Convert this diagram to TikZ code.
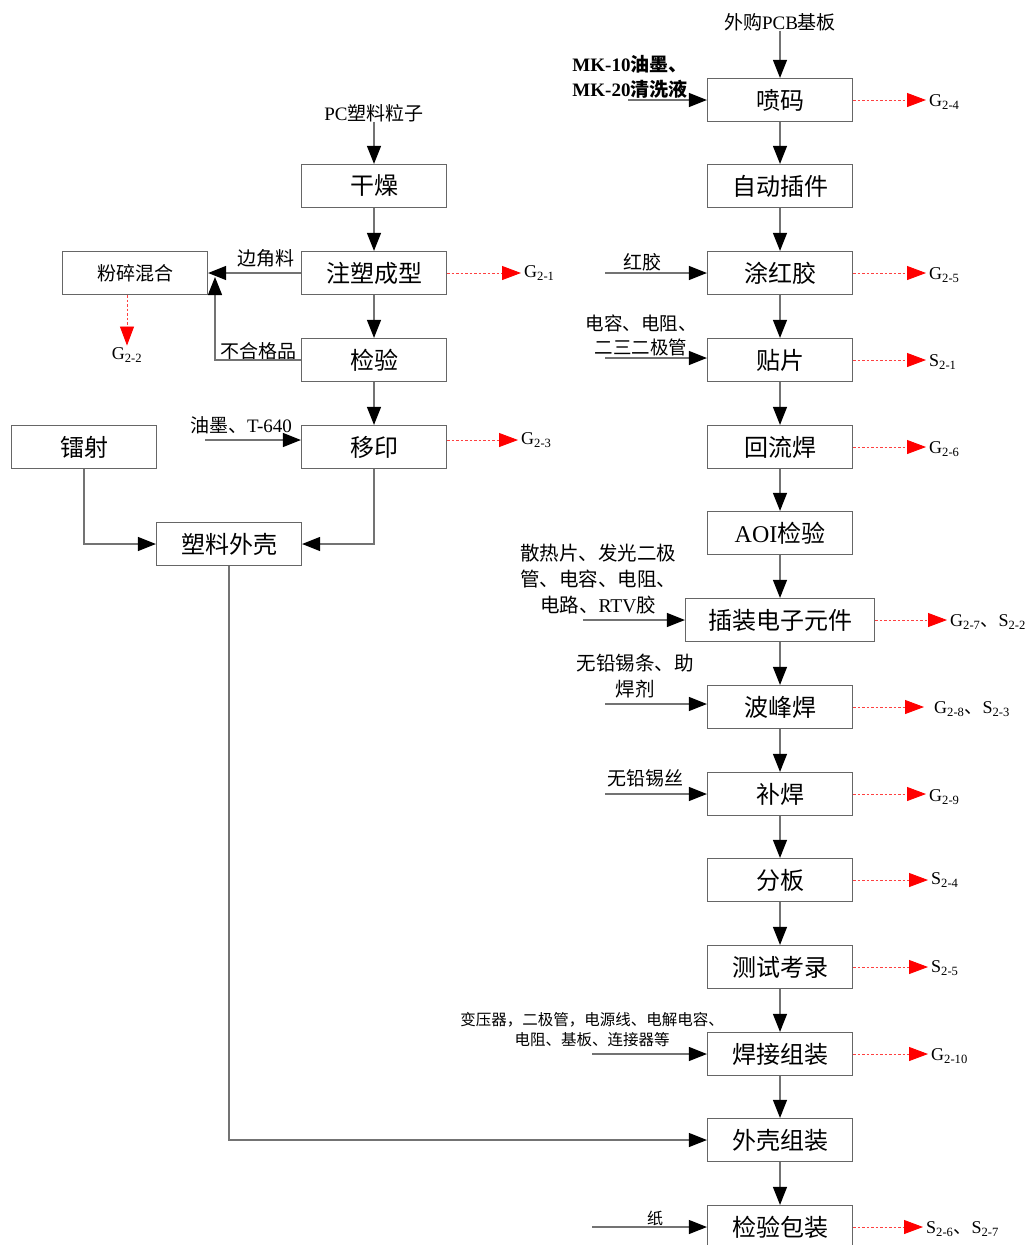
\documentclass[tikz,border=0pt]{standalone}
\usepackage{fontspec}
\setmainfont{Liberation Serif}
\newfontfamily\cjk{Noto Sans CJK SC}
\usetikzlibrary{arrows.meta}
\newcommand\zh[1]{{\cjk #1}}
\newcommand\sbs[1]{\textsubscript{#1}}
\begin{document}
\begin{tikzpicture}[x=1pt,y=-1pt,
  box/.style={draw=black!60, line width=1.2pt, fill=white, minimum width=145pt, minimum height=43pt, inner sep=0pt, font=\fontsize{24}{26}\selectfont\cjk},
  lbl/.style={inner sep=0pt, font=\fontsize{19}{25}\selectfont, align=center},
  glbl/.style={inner sep=0pt, anchor=west, font=\fontsize{18}{20}\selectfont},
  flow/.style={draw=black!55, line width=1.1pt, -{Triangle[length=18pt,width=14pt,color=black,fill=black]}},
  plain/.style={draw=black!55, line width=1.1pt},
  emit/.style={draw=red!75, line width=0.9pt, dash pattern=on 2.5pt off 2pt, shorten >=3pt, -{Triangle[length=19pt,width=14pt,color=red,fill=red]}}
]
\useasboundingbox (0,0) rectangle (1028,1245);
\fill[white] (0,0) rectangle (1028,1245);

% ---------------- left column ----------------
\node[lbl] (pc) at (374,113) {PC\zh{塑料粒子}};
\node[box] (gz) at (374,186) {干燥};
\node[box] (zs) at (374,273) {注塑成型};
\node[box] (jy) at (374,360) {检验};
\node[box] (yy) at (374,447) {移印};
\node[box, font=\fontsize{19}{21}\selectfont\cjk] (fs) at (135,273) {粉碎混合};
\node[box] (ls) at (84,447) {镭射};
\node[box] (sk) at (229,544) {塑料外壳};

\draw[flow] (pc) -- (gz);
\draw[flow] (gz) -- (zs);
\draw[flow] (zs) -- (jy);
\draw[flow] (jy) -- (yy);

\node[lbl] (bjl) at (266,258) {\zh{边角料}};
\draw[flow] (zs.west) -- (fs.east);
\coordinate (rj) at (215,277);
\node[lbl] (bhg) at (258,351) {\zh{不合格品}};
\draw[flow] (jy.west) -| (rj);

\node[glbl, anchor=center] (g22) at (127,355) {G\sbs{2-2}};
\draw[emit, shorten >=2pt] (fs.south -| g22.north) -- (g22.north);
\node[glbl] (g21) at (524,273) {G\sbs{2-1}};
\draw[emit] (zs.east) -- (g21.west);
\node[glbl] (g23) at (521,440) {G\sbs{2-3}};
\draw[emit] (yy.east |- g23.west) -- (g23.west);

\node[lbl] (ym) at (241,425) {\zh{油墨、}T-640};
\coordinate (ymin) at (205,440);
\draw[flow] (ymin) -- (ymin -| yy.west);

\draw[flow] (ls.south) |- (sk.west);
\draw[flow] (yy.south) |- (sk.east);

% ---------------- right column ----------------
\node[lbl] (pcb) at (780,22) {\zh{外购}PCB\zh{基板}};
\node[box] (pm) at (780,100) {喷码};
\node[box] (zd) at (780,186) {自动插件};
\node[box] (th) at (780,273) {涂红胶};
\node[box] (tp) at (780,360) {贴片};
\node[box] (hl) at (780,447) {回流焊};
\node[box] (aoi) at (780,533) {{\rmfamily AOI}检验};
\node[box, minimum width=189pt] (cz) at (780,620) {插装电子元件};
\node[box] (bf) at (780,707) {波峰焊};
\node[box] (bh) at (780,794) {补焊};
\node[box] (fb) at (780,880) {分板};
\node[box] (cs) at (780,967) {测试考录};
\node[box] (hj) at (780,1054) {焊接组装};
\node[box] (wk) at (780,1140) {外壳组装};
\node[box] (jb) at (780,1227) {检验包装};

\draw[flow] (pcb) -- (pm);
\draw[flow] (pm) -- (zd);
\draw[flow] (zd) -- (th);
\draw[flow] (th) -- (tp);
\draw[flow] (tp) -- (hl);
\draw[flow] (hl) -- (aoi);
\draw[flow] (aoi) -- (cz);
\draw[flow] (cz) -- (bf);
\draw[flow] (bf) -- (bh);
\draw[flow] (bh) -- (fb);
\draw[flow] (fb) -- (cs);
\draw[flow] (cs) -- (hj);
\draw[flow] (hj) -- (wk);
\draw[flow] (wk) -- (jb);

\draw[flow] (sk.south) |- (wk.west);

% outputs
\node[glbl] (g24) at (929,102) {G\sbs{2-4}};
\draw[emit] (pm.east) -- (pm.east -| g24.west);
\node[glbl] (g25) at (929,275) {G\sbs{2-5}};
\draw[emit] (th.east) -- (th.east -| g25.west);
\node[glbl] (s21) at (929,362) {S\sbs{2-1}};
\draw[emit] (tp.east) -- (tp.east -| s21.west);
\node[glbl] (g26) at (929,449) {G\sbs{2-6}};
\draw[emit] (hl.east) -- (hl.east -| g26.west);
\node[glbl] (g27) at (950,622) {G\sbs{2-7}\zh{、}S\sbs{2-2}};
\draw[emit] (cz.east) -- (cz.east -| g27.west);
\node[glbl] (g28) at (934,709) {G\sbs{2-8}\zh{、}S\sbs{2-3}};
\draw[emit, shorten >=10pt] (bf.east) -- (bf.east -| g28.west);
\node[glbl] (g29) at (929,797) {G\sbs{2-9}};
\draw[emit] (bh.east) -- (bh.east -| g29.west);
\node[glbl] (s24) at (931,880) {S\sbs{2-4}};
\draw[emit] (fb.east) -- (fb.east -| s24.west);
\node[glbl] (s25) at (931,968) {S\sbs{2-5}};
\draw[emit] (cs.east) -- (cs.east -| s25.west);
\node[glbl] (g210) at (931,1056) {G\sbs{2-10}};
\draw[emit] (hj.east) -- (hj.east -| g210.west);
\node[glbl] (s26) at (926,1229) {S\sbs{2-6}\zh{、}S\sbs{2-7}};
\draw[emit] (jb.east) -- (jb.east -| s26.west);

% inputs
\node[lbl, align=left, font=\fontsize{19}{25}\selectfont\bfseries] (mk) at (630,77) {MK-10\zh{油墨、}\\MK-20\zh{清洗液}};
\coordinate (mkin) at (628,100);
\draw[flow] (mkin) -- (pm.west);

\node[lbl] (hj1) at (642,262) {\zh{红胶}};
\coordinate (hjin) at (605,273);
\draw[flow] (hjin) -- (th.west);

\node[lbl, font=\fontsize{18.5}{24}\selectfont] (dr) at (641,335) {\zh{电容、电阻、}\\\zh{二三二极管}};
\coordinate (drin) at (605,358);
\draw[flow] (drin) -- (drin -| tp.west);

\node[lbl, font=\fontsize{19.5}{26}\selectfont] (sr) at (598,579) {\zh{散热片、发光二极}\\\zh{管、电容、电阻、}\\\zh{电路、}RTV\zh{胶}};
\coordinate (srin) at (583,620);
\draw[flow] (srin) -- (cz.west);

\node[lbl, font=\fontsize{19.5}{26}\selectfont] (wq) at (635,676) {\zh{无铅锡条、助}\\\zh{焊剂}};
\coordinate (wqin) at (605,704);
\draw[flow] (wqin) -- (wqin -| bf.west);

\node[lbl] (ws) at (645,778) {\zh{无铅锡丝}};
\coordinate (wsin) at (605,794);
\draw[flow] (wsin) -- (bh.west);

\node[lbl, font=\fontsize{15.5}{20}\selectfont] (by) at (592,1030) {\zh{变压器，二极管，电源线、电解电容、}\\\zh{电阻、基板、连接器等}};
\coordinate (byin) at (592,1054);
\draw[flow] (byin) -- (hj.west);

\node[lbl, font=\fontsize{16}{20}\selectfont] (zhi) at (655,1218) {\zh{纸}};
\coordinate (zin) at (592,1227);
\draw[flow] (zin) -- (jb.west);
\end{tikzpicture}
\end{document}
